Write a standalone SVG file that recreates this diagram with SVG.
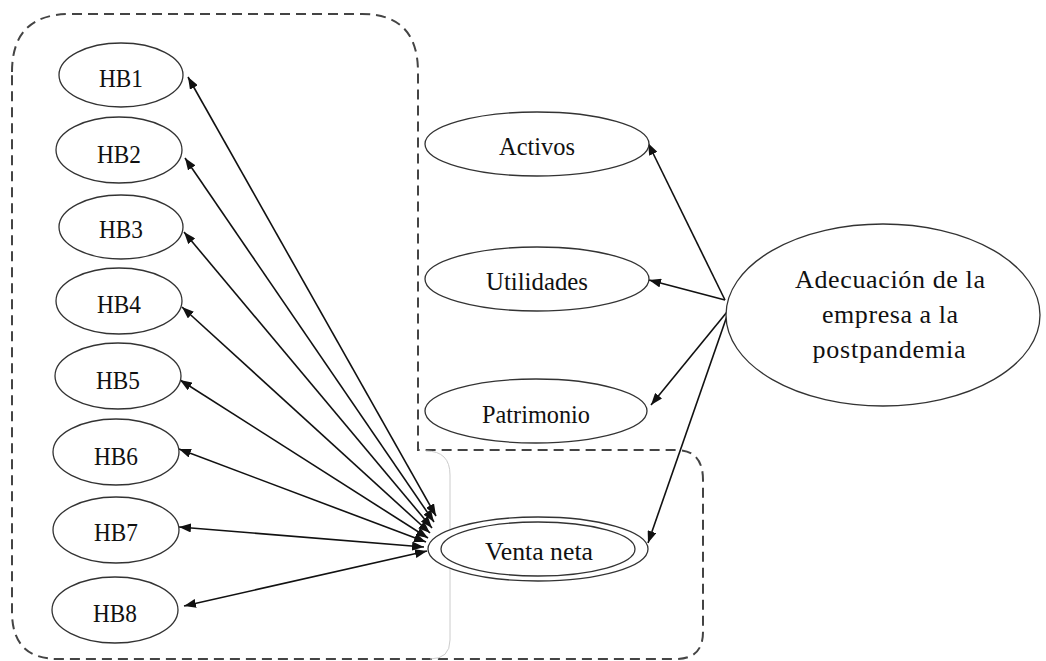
<svg xmlns="http://www.w3.org/2000/svg" width="1046" height="661" viewBox="0 0 1046 661">
<style>
.n ellipse{fill:#fff;stroke:#333;stroke-width:1.3}
.n text{font-family:"Liberation Serif","Times New Roman",serif;font-size:26px;fill:#111;text-anchor:middle}
.c line{stroke:#111;stroke-width:1.6}
.b{fill:none;stroke:#444;stroke-width:2;stroke-dasharray:10 6}
</style>
<defs>
<marker id="ah" viewBox="0 0 12 9" refX="12" refY="4.5" markerWidth="12" markerHeight="9" markerUnits="userSpaceOnUse" orient="auto-start-reverse">
<path d="M0,0 L12,4.5 L0,9 z" fill="#111"/>
</marker>
</defs>
<rect width="1046" height="661" fill="#fff"/>
<g id="frame">
<path class="b" d="M12 72 Q12 14 70 14 L362 14 Q418 14 418 72 L418 450 L676 450 Q703 450 703 480 L703 632 Q703 659 676 659 L58 659 Q12 659 12 612 Z"/>
<path d="M426 451 Q450 451 450 475 L450 640 Q450 659 430 659" fill="none" stroke="#ccc" stroke-width="1"/>
</g>
<g class="c" id="connectors">
<line x1="436" y1="516" x2="188" y2="77" marker-start="url(#ah)" marker-end="url(#ah)"/>
<line x1="434" y1="522" x2="185" y2="158" marker-start="url(#ah)" marker-end="url(#ah)"/>
<line x1="432" y1="528" x2="184" y2="232" marker-start="url(#ah)" marker-end="url(#ah)"/>
<line x1="430" y1="533" x2="182" y2="307" marker-start="url(#ah)" marker-end="url(#ah)"/>
<line x1="428" y1="538" x2="180" y2="380" marker-start="url(#ah)" marker-end="url(#ah)"/>
<line x1="426" y1="542" x2="179" y2="449" marker-start="url(#ah)" marker-end="url(#ah)"/>
<line x1="424" y1="547" x2="179" y2="527" marker-start="url(#ah)" marker-end="url(#ah)"/>
<line x1="427" y1="551" x2="184" y2="606" marker-start="url(#ah)" marker-end="url(#ah)"/>
<line x1="725" y1="300" x2="648" y2="143" marker-end="url(#ah)"/>
<line x1="725" y1="300" x2="649" y2="280" marker-end="url(#ah)"/>
<line x1="727" y1="312" x2="651" y2="405" marker-end="url(#ah)"/>
<line x1="727" y1="316" x2="648" y2="543" marker-end="url(#ah)"/>
</g>
<g class="n" id="hb1"><ellipse cx="121" cy="75" rx="62" ry="32"/><text x="121" y="87" textLength="44" lengthAdjust="spacingAndGlyphs">HB1</text></g>
<g class="n" id="hb2"><ellipse cx="119" cy="150" rx="63" ry="33"/><text x="119" y="163" textLength="44" lengthAdjust="spacingAndGlyphs">HB2</text></g>
<g class="n" id="hb3"><ellipse cx="121" cy="227" rx="62" ry="32"/><text x="121" y="238" textLength="44" lengthAdjust="spacingAndGlyphs">HB3</text></g>
<g class="n" id="hb4"><ellipse cx="119" cy="301" rx="63" ry="33"/><text x="119" y="313" textLength="44" lengthAdjust="spacingAndGlyphs">HB4</text></g>
<g class="n" id="hb5"><ellipse cx="118" cy="376" rx="63" ry="33"/><text x="118" y="389" textLength="44" lengthAdjust="spacingAndGlyphs">HB5</text></g>
<g class="n" id="hb6"><ellipse cx="116" cy="452" rx="63" ry="33"/><text x="116" y="465" textLength="44" lengthAdjust="spacingAndGlyphs">HB6</text></g>
<g class="n" id="hb7"><ellipse cx="116" cy="530" rx="63" ry="33"/><text x="116" y="541" textLength="44" lengthAdjust="spacingAndGlyphs">HB7</text></g>
<g class="n" id="hb8"><ellipse cx="115" cy="610" rx="63" ry="33"/><text x="115" y="622" textLength="44" lengthAdjust="spacingAndGlyphs">HB8</text></g>
<g class="n" id="activos"><ellipse cx="537" cy="144" rx="112" ry="32"/><text x="537" y="155" textLength="76" lengthAdjust="spacingAndGlyphs">Activos</text></g>
<g class="n" id="utilidades"><ellipse cx="537" cy="279" rx="112" ry="32"/><text x="537" y="290" textLength="102" lengthAdjust="spacingAndGlyphs">Utilidades</text></g>
<g class="n" id="patrimonio"><ellipse cx="536" cy="411" rx="111" ry="32"/><text x="536" y="423" textLength="108" lengthAdjust="spacingAndGlyphs">Patrimonio</text></g>
<g class="n" id="venta"><ellipse cx="538" cy="549" rx="110" ry="32"/><ellipse cx="538" cy="549" rx="97" ry="27"/><text x="539" y="560" textLength="108" lengthAdjust="spacingAndGlyphs">Venta neta</text></g>
<g class="n" id="adecuacion"><ellipse cx="883" cy="315" rx="157" ry="91"/>
<text x="890" y="288" textLength="190" lengthAdjust="spacing">Adecuación de la</text>
<text x="890" y="323" textLength="136" lengthAdjust="spacing">empresa a la</text>
<text x="889" y="358" textLength="153" lengthAdjust="spacing">postpandemia</text>
</g>
</svg>
